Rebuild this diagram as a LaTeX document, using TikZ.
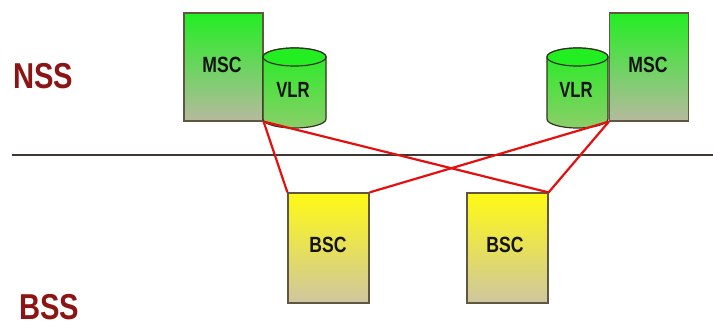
\documentclass[tikz,border=0pt]{standalone}
\usepackage{fontspec}
\usepackage{graphicx}
\setmainfont{Liberation Sans}
\definecolor{gtop}{RGB}{34,238,34}
\definecolor{gbot}{RGB}{182,186,158}
\definecolor{vbot}{RGB}{140,206,106}
\definecolor{ytop}{RGB}{255,250,20}
\definecolor{ybot}{RGB}{206,198,160}
\definecolor{edge}{RGB}{96,86,66}
\definecolor{vedge}{RGB}{50,50,32}
\definecolor{linkred}{RGB}{228,16,16}
\definecolor{sysred}{RGB}{140,20,20}
\definecolor{sepline}{RGB}{60,56,50}
\newcommand\narrow[2]{\scalebox{#1}[1]{#2}}
\tikzset{
  mscbox/.style={draw=edge, line width=1.2pt, top color=gtop, bottom color=gbot,
    minimum width=79pt, minimum height=108pt, inner sep=0pt},
  bscbox/.style={draw=edge, line width=1.2pt, top color=ytop, bottom color=ybot,
    minimum width=81pt, minimum height=110pt, inner sep=0pt},
  lab/.style={font=\fontsize{22}{22}\selectfont\bfseries, text=black!92, inner sep=0pt},
  syslab/.style={font=\fontsize{36}{36}\selectfont\bfseries, text=sysred, inner sep=0pt},
  link/.style={draw=linkred, line width=2.2pt},
  cylbody/.style={draw=vedge, line width=1.2pt, top color=gtop, bottom color=vbot},
}
\begin{document}
\begin{tikzpicture}[x=1pt,y=1pt]
\useasboundingbox (0,0) rectangle (713,327);
% separator
\coordinate (sepL) at (12,172);
\coordinate (sepR) at (713,172);
\draw[sepline, line width=1.8pt] (sepL) -- (sepR);
% MSC boxes
\node[mscbox] (mscL) at (223.5,260) {};
\node[mscbox] (mscR) at (649,260) {};
% VLR cylinders
\path[cylbody] (263,270) -- (263,208) arc (180:360:31.5 and 9) -- (326,270) arc (0:180:31.5 and 9) -- cycle;
\path[draw=vedge, line width=1.2pt, fill=gtop] (294.5,270) ellipse (31.5 and 9);
\path[cylbody] (547,270) -- (547,208) arc (180:360:30.5 and 9) -- (608,270) arc (0:180:30.5 and 9) -- cycle;
\path[draw=vedge, line width=1.2pt, fill=gtop] (577.5,270) ellipse (30.5 and 9);
% BSC boxes
\node[bscbox] (bscL) at (328.5,79) {};
\node[bscbox] (bscR) at (507.5,79) {};
% links
\draw[link] (mscL.south east) -- (bscL.north west);
\draw[link] (mscL.south east) -- (bscR.north east);
\draw[link] (mscR.south west) -- (bscR.north east);
\draw[link] (mscR.south west) -- (bscL.north east);
% labels
\node[lab] (tmscL) at (222,262) {\narrow{0.8}{MSC}};
\node[lab] (tmscR) at (648,262) {\narrow{0.8}{MSC}};
\node[lab] (tvlrL) at (293,237) {\narrow{0.76}{VLR}};
\node[lab] (tvlrR) at (576,237) {\narrow{0.76}{VLR}};
\node[lab] (tbscL) at (328,82) {\narrow{0.8}{BSC}};
\node[lab] (tbscR) at (505,82) {\narrow{0.8}{BSC}};
\node[syslab] (nss) at (43,251) {\narrow{0.81}{NSS}};
\node[syslab] (bss) at (49,20) {\narrow{0.81}{BSS}};
\end{tikzpicture}
\end{document}
